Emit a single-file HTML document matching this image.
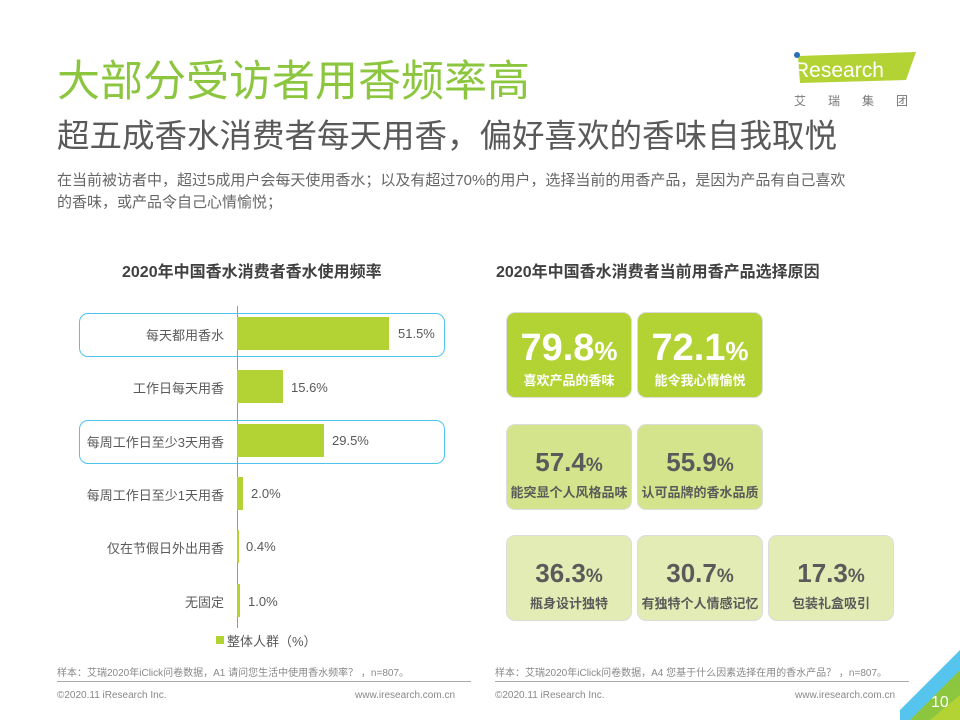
<!DOCTYPE html>
<html><head><meta charset="utf-8"><style>
*{margin:0;padding:0;box-sizing:border-box}
body{width:960px;height:720px;position:relative;overflow:hidden;background:#fff;font-family:"Liberation Sans","Noto Sans CJK SC",sans-serif;color:#595959}
.a{position:absolute;white-space:nowrap}
.lab{position:absolute;right:736px;font-size:13px;color:#595959;text-align:right;white-space:nowrap}
.val{position:absolute;font-size:13px;color:#595959}
.bar{position:absolute;left:237px;height:33px;background:#b3d334}
.hl{position:absolute;left:79px;width:366px;height:44px;border:1.5px solid #4fc3f0;border-radius:9px}
.t{position:absolute;width:126px;height:86px;border:1.5px solid #dcdcdc;border-radius:9px;text-align:center;font-weight:bold}
.t .n{position:absolute;left:0;right:0;font-size:26px}
.t .n span{font-size:19px}
.t .c{position:absolute;left:0;right:0;bottom:8px;font-size:13px}
.g1{background:#b3d334;color:#fff}
.g1 .n{top:14px;font-size:38px}.g1 .n span{font-size:26px}
.g2{background:#d3e48c;color:#5a5a5a}
.g3{background:#e2ecb4;color:#5a5a5a}
.g2 .n,.g3 .n{top:22px}
</style></head><body>
<div class="a" style="left:57px;top:56px;font-size:43px;color:#8cc63f;line-height:52px">大部分受访者用香频率高</div>
<div class="a" style="left:57px;top:116px;font-size:32.5px;color:#595959;line-height:40px">超五成香水消费者每天用香，偏好喜欢的香味自我取悦</div>
<div class="a" style="left:57px;top:170px;font-size:15px;color:#666;line-height:22px;white-space:normal;width:880px">在当前被访者中，超过5成用户会每天使用香水；以及有超过70%的用户，选择当前的用香产品，是因为产品有自己喜欢<br>的香味，或产品令自己心情愉悦；</div>
<svg class="a" style="left:790px;top:50px" width="130" height="35"><polygon points="8,6 126,2 116,30 10,33" fill="#b3d334"/><circle cx="7" cy="5" r="3" fill="#2a6ebb"/></svg>
<div class="a" style="left:794px;top:59px;font-size:21px;color:#fff;line-height:24px">Research</div>
<div class="a" style="left:794px;top:92px;font-size:12px;color:#777;letter-spacing:22px">艾瑞集团</div>

<div class="a" style="left:122px;top:258px;font-size:16px;font-weight:bold;color:#404040">2020年中国香水消费者香水使用频率</div>
<div class="a" style="left:496px;top:258px;font-size:16px;font-weight:bold;color:#404040">2020年中国香水消费者当前用香产品选择原因</div>

<div class="hl" style="top:313px"></div>
<div class="hl" style="top:420px"></div>
<div class="a" style="left:237px;top:306px;width:1px;height:322px;background:#999"></div>
<div class="bar" style="top:317px;width:152px"></div>
<div class="bar" style="top:370px;width:46px"></div>
<div class="bar" style="top:424px;width:87px"></div>
<div class="bar" style="top:477px;width:6px"></div>
<div class="bar" style="top:530px;width:2px"></div>
<div class="bar" style="top:584px;width:3px"></div>
<div class="lab" style="top:325px">每天都用香水</div>
<div class="lab" style="top:378px">工作日每天用香</div>
<div class="lab" style="top:432px">每周工作日至少3天用香</div>
<div class="lab" style="top:485px">每周工作日至少1天用香</div>
<div class="lab" style="top:538px">仅在节假日外出用香</div>
<div class="lab" style="top:592px">无固定</div>
<div class="val" style="left:398px;top:326px">51.5%</div>
<div class="val" style="left:291px;top:380px">15.6%</div>
<div class="val" style="left:332px;top:433px">29.5%</div>
<div class="val" style="left:251px;top:486px">2.0%</div>
<div class="val" style="left:246px;top:539px">0.4%</div>
<div class="val" style="left:248px;top:594px">1.0%</div>
<div class="a" style="left:216px;top:636px;width:8px;height:8px;background:#b3d334"></div>
<div class="a" style="left:227px;top:631px;font-size:13px">整体人群（%）</div>

<div class="t g1" style="left:506px;top:312px"><div class="n">79.8<span>%</span></div><div class="c">喜欢产品的香味</div></div>
<div class="t g1" style="left:637px;top:312px"><div class="n">72.1<span>%</span></div><div class="c">能令我心情愉悦</div></div>
<div class="t g2" style="left:506px;top:424px"><div class="n">57.4<span>%</span></div><div class="c">能突显个人风格品味</div></div>
<div class="t g2" style="left:637px;top:424px"><div class="n">55.9<span>%</span></div><div class="c">认可品牌的香水品质</div></div>
<div class="t g3" style="left:506px;top:535px"><div class="n">36.3<span>%</span></div><div class="c">瓶身设计独特</div></div>
<div class="t g3" style="left:637px;top:535px"><div class="n">30.7<span>%</span></div><div class="c">有独特个人情感记忆</div></div>
<div class="t g3" style="left:768px;top:535px"><div class="n">17.3<span>%</span></div><div class="c">包装礼盒吸引</div></div>

<div class="a" style="left:57px;top:664px;font-size:10px;color:#888">样本：艾瑞2020年iClick问卷数据，A1 请问您生活中使用香水频率？ ，n=807。</div>
<div class="a" style="left:57px;top:681px;width:414px;height:1px;background:#aaa"></div>
<div class="a" style="left:57px;top:690px;font-size:10px;color:#888">©2020.11 iResearch Inc.</div>
<div class="a" style="left:355px;top:690px;font-size:10px;color:#888">www.iresearch.com.cn</div>
<div class="a" style="left:495px;top:664px;font-size:10px;color:#888">样本：艾瑞2020年iClick问卷数据，A4 您基于什么因素选择在用的香水产品？ ，n=807。</div>
<div class="a" style="left:495px;top:681px;width:414px;height:1px;background:#aaa"></div>
<div class="a" style="left:495px;top:690px;font-size:10px;color:#888">©2020.11 iResearch Inc.</div>
<div class="a" style="left:795px;top:690px;font-size:10px;color:#888">www.iresearch.com.cn</div>
<svg class="a" style="left:900px;top:650px" width="60" height="70"><polygon points="60,0 60,40 20,70 0,70 0,60" fill="#56c5ee"/><polygon points="60,20 60,70 10,70" fill="#8cc63f"/><polygon points="60,45 60,70 30,70" fill="#b3d334"/></svg>
<div class="a" style="left:931px;top:694px;font-size:16px;color:#fff">10</div>
</body></html>
